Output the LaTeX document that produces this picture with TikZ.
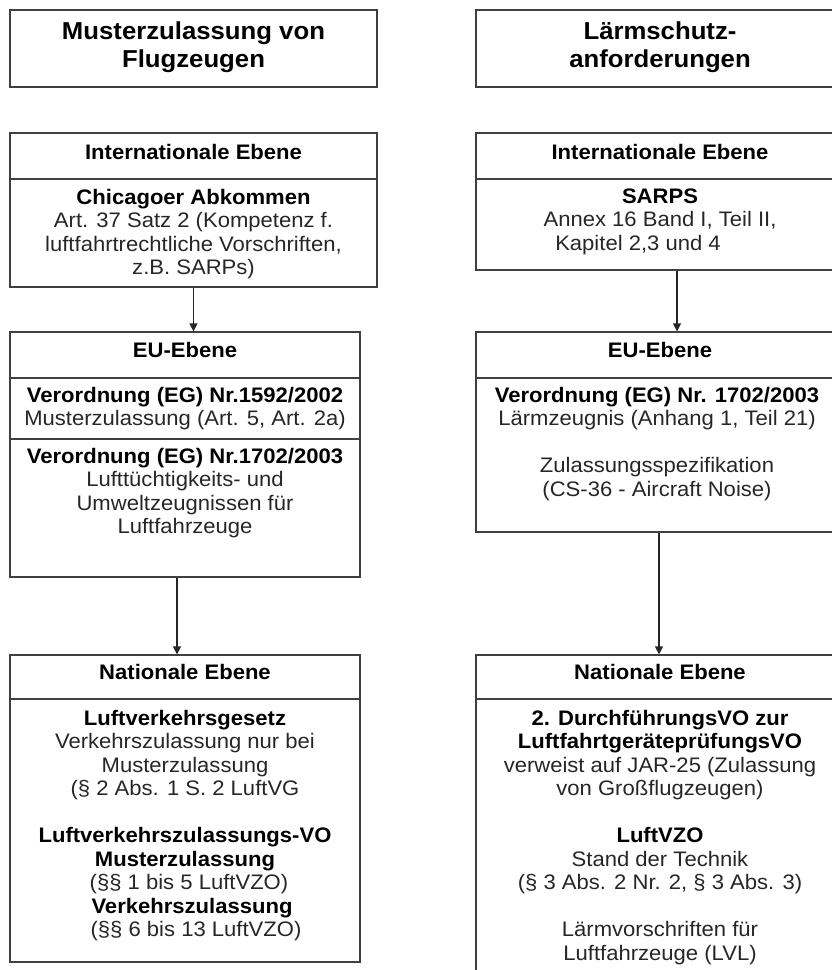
\documentclass[tikz,border=0pt]{standalone}
\usepackage{fontspec}
\setmainfont[FakeStretch=1.05]{Liberation Sans}
\usetikzlibrary{arrows.meta}
\newcommand{\boldline}[1]{\textbf{\color{black}#1}}
\begin{document}
\begin{tikzpicture}[x=1pt,y=-1pt,
  sec/.style={draw=black!75, line width=1.2pt, inner sep=0pt},
  body/.style={inner sep=0pt, align=center, anchor=north, font=\fontsize{21}{23.5}\selectfont, text=black!85},
  head/.style={inner sep=0pt, anchor=base, font=\fontsize{21}{23.5}\selectfont\bfseries, text=black},
  ttl/.style={inner sep=0pt, align=center, anchor=north, font=\fontsize{24.5}{28.3}\selectfont\bfseries, text=black},
  arr/.style={draw=black!85, line width=1.2pt, -{Triangle[width=8pt,length=8pt]}}
]
\useasboundingbox (0,0) rectangle (832,970);
\clip (0,0) rectangle (832,970);

% ---------- left column ----------
\node[sec, minimum width=367pt, minimum height=77pt] (lt) at (193.5,48.5) {};
\node[ttl] (ltt) at (193.5,19.5) {\strut Musterzulassung von\\Flugzeugen};

\node[sec, minimum width=367pt, minimum height=46pt] (lih) at (193.5,156) {};
\node[head] (liht) at (193.5,159.3) {Internationale Ebene};
\node[sec, minimum width=367pt, minimum height=108pt] (lib) at (193.5,233) {};
\node[body] (libt) at (193.5,187.5) {\strut\boldline{Chicagoer Abkommen}\\Art. 37 Satz 2 (Kompetenz f.\\luftfahrtrechtliche Vorschriften,\\z.B. SARPs)};

\node[sec, minimum width=350pt, minimum height=46pt] (leh) at (185,355) {};
\node[head] (leht) at (185,357.7) {EU-Ebene};
\node[sec, minimum width=350pt, minimum height=61pt] (leb1) at (185,408.5) {};
\node[body] (leb1t) at (185,385.5) {\strut\boldline{Verordnung (EG) Nr.1592/2002}\\Musterzulassung (Art. 5, Art. 2a)};
\node[sec, minimum width=350pt, minimum height=138pt] (leb2) at (185,508) {};
\node[body] (leb2t) at (185,446.5) {\strut\boldline{Verordnung (EG) Nr.1702/2003}\\Lufttüchtigkeits- und\\Umweltzeugnissen für\\Luftfahrzeuge};

\node[sec, minimum width=350pt, minimum height=44pt] (lnh) at (185,677) {};
\node[head] (lnht) at (185,679.3) {Nationale Ebene};
\node[sec, minimum width=350pt, minimum height=263pt] (lnb) at (185,830.5) {};
\node[body] (lnbt) at (185,708.5) {\strut\boldline{Luftverkehrsgesetz}\\Verkehrszulassung nur bei\\Musterzulassung\\(§ 2 Abs. 1 S. 2 LuftVG\\[23.5pt]
\boldline{Luftverkehrszulassungs-VO}\\\boldline{Musterzulassung}\\\hspace*{8pt}(§§ 1 bis 5 LuftVZO)\\\hspace*{14pt}\boldline{Verkehrszulassung}\\\hspace*{22pt}(§§ 6 bis 13 LuftVZO)};

% ---------- right column (boxes run past the right edge) ----------
\node[sec, minimum width=400pt, minimum height=77pt] (rt) at (676,48.5) {};
\node[ttl] (rtt) at (660,19.5) {\strut Lärmschutz-\\anforderungen};

\node[sec, minimum width=400pt, minimum height=46pt] (rih) at (676,156) {};
\node[head] (riht) at (660,159.3) {Internationale Ebene};
\node[sec, minimum width=400pt, minimum height=91pt] (rib) at (676,224.5) {};
\node[body] (ribt) at (660,186.5) {\strut\boldline{SARPS}\\Annex 16 Band I, Teil II,\\Kapitel 2,3 und 4\hspace*{44pt}};

\node[sec, minimum width=400pt, minimum height=46pt] (reh) at (676,355) {};
\node[head] (reht) at (660,357.7) {EU-Ebene};
\node[sec, minimum width=400pt, minimum height=154pt] (reb) at (676,455) {};
\node[body] (rebt) at (657,385.5) {\strut\boldline{Verordnung (EG) Nr. 1702/2003}\\Lärmzeugnis (Anhang 1, Teil 21)\\[23.5pt]
Zulassungsspezifikation\\(CS-36 - Aircraft Noise)};

\node[sec, minimum width=400pt, minimum height=44pt] (rnh) at (676,677) {};
\node[head] (rnht) at (660,679.3) {Nationale Ebene};
\node[sec, minimum width=400pt, minimum height=301pt] (rnb) at (676,849.5) {};
\node[body] (rnbt) at (660,708.5) {\strut\boldline{2. DurchführungsVO zur}\\\boldline{LuftfahrtgeräteprüfungsVO}\\verweist auf JAR-25 (Zulassung\\von Großflugzeugen)\\[23.5pt]
\boldline{LuftVZO}\\Stand der Technik\\(§ 3 Abs. 2 Nr. 2, § 3 Abs. 3)\\[23.5pt]
Lärmvorschriften für\\Luftfahrzeuge (LVL)};

% ---------- arrows ----------
\draw[arr] (lib.south) -- (lib.south |- leh.north);
\draw[arr] ([xshift=1pt]rib.south) -- ([xshift=1pt]rib.south |- reh.north);
\draw[arr] ([xshift=-8pt]leb2.south) -- ([xshift=-8pt]leb2.south |- lnh.north);
\draw[arr] ([xshift=-17pt]reb.south) -- ([xshift=-17pt]reb.south |- rnh.north);
\end{tikzpicture}
\end{document}
